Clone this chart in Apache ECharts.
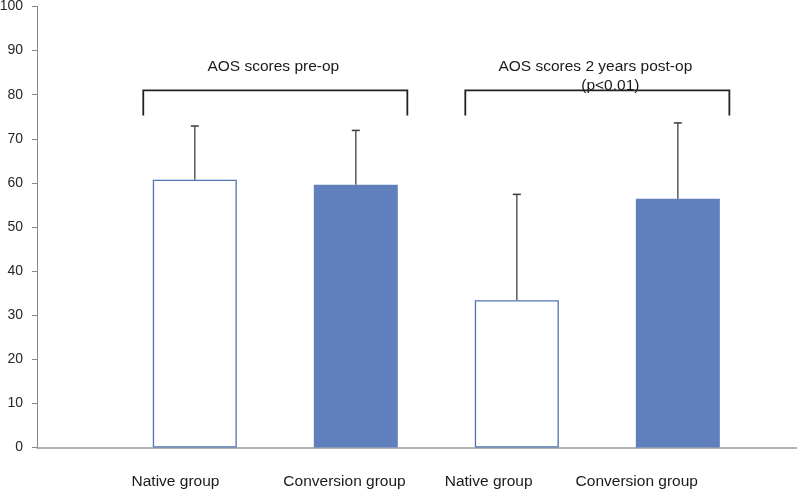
<!DOCTYPE html>
<html><head><meta charset="utf-8">
<script src="https://cdn.jsdelivr.net/npm/echarts@6/dist/echarts.min.js"></script>
<style>html,body{margin:0;padding:0;background:#fff}#c{width:797px;height:489px}</style>
</head><body><div id="c"></div>
<script>
// ---- data ----
const categories = ['Native group', 'Conversion group', 'Native group', 'Conversion group'];
const barPositions = [1, 2, 3, 4];
const meanScores = [60.7, 59.6, 33.4, 56.4];
const sdScores = [12.2, 12.3, 24.0, 17.2];
const groupFilled = [false, true, false, true];
const bracketTitles = [['AOS scores pre-op'], ['AOS scores 2 years post-op', '(p<0.01)']];
const bracketBars = [[0, 1], [2, 3]];
const yTickLabels = [0, 10, 20, 30, 40, 50, 60, 70, 80, 90, 100];

// ---- layout/style (not data) ----
const labelShift = [-0.12, -0.07, -0.175, -0.255];
const bracketPad = 0.32;
const bracketTop = 81, bracketBottom = 75.3;
const FONT = '"Liberation Sans", Arial, sans-serif';
const BLUE = '#5F80BD';

const labelX = barPositions.map((p, i) => +(p + labelShift[i]).toFixed(4));

const chart = echarts.init(document.getElementById('c'), null, {renderer: 'canvas'});
chart.setOption({
  animation: false,
  backgroundColor: '#fff',
  grid: {left: 37, right: 0, top: 6.5, bottom: 41.5, containLabel: false, outerBoundsMode: 'none'},
  xAxis: {
    type: 'value', min: 0.02, max: 4.74,
    splitLine: {show: false},
    axisLine: {show: true, lineStyle: {color: '#9a9a9a', width: 1.5}},
    axisTick: {show: false},
    axisLabel: {
      show: true, customValues: labelX, margin: 26,
      fontFamily: FONT, fontSize: 15.5, color: '#1a1a1a',
      formatter: function (v) {
        for (let i = 0; i < labelX.length; i++) if (Math.abs(labelX[i] - v) < 1e-6) return categories[i];
        return '';
      }
    }
  },
  yAxis: {
    type: 'value', min: yTickLabels[0], max: yTickLabels[yTickLabels.length - 1], interval: 10,
    splitLine: {show: false},
    axisLine: {show: true, lineStyle: {color: '#868686', width: 1}},
    axisTick: {show: true, inside: false, length: 5, lineStyle: {color: '#868686'}},
    axisLabel: {margin: 14, fontFamily: FONT, fontSize: 14, color: '#262626'}
  },
  series: [
    {
      type: 'bar', barWidth: 84, z: 2,
      data: barPositions.map((p, i) => ({
        value: [p, meanScores[i]],
        itemStyle: groupFilled[i]
          ? {color: BLUE, borderColor: BLUE, borderWidth: 0}
          : {color: '#ffffff', borderColor: '#4F74B5', borderWidth: 1.3}
      }))
    },
    {
      type: 'custom', z: 3,
      data: barPositions.map((p, i) => [p, meanScores[i], meanScores[i] + sdScores[i]]),
      renderItem: function (params, api) {
        const a = api.coord([api.value(0), api.value(1)]);
        const b = api.coord([api.value(0), api.value(2)]);
        return {type: 'group', children: [
          {type: 'line', shape: {x1: a[0], y1: a[1], x2: b[0], y2: b[1]}, style: {stroke: '#5a5a5a', lineWidth: 1.5}},
          {type: 'line', shape: {x1: b[0] - 4, y1: b[1], x2: b[0] + 4, y2: b[1]}, style: {stroke: '#3a3a3a', lineWidth: 1.5}}
        ]};
      }
    },
    {
      type: 'custom', z: 4,
      data: bracketBars.map((bb, i) => [barPositions[bb[0]] - bracketPad, barPositions[bb[1]] + bracketPad, bracketTop, bracketBottom, i]),
      renderItem: function (params, api) {
        const x1 = api.value(0), x2 = api.value(1), yt = api.value(2), yb = api.value(3);
        const idx = api.value(4);
        const p1 = api.coord([x1, yb]), p2 = api.coord([x1, yt]), p3 = api.coord([x2, yt]), p4 = api.coord([x2, yb]);
        const midX = (p2[0] + p3[0]) / 2;
        const titles = bracketTitles[idx];
        const children = [
          {type: 'polyline', shape: {points: [p1, p2, p3, p4]}, style: {stroke: '#222222', lineWidth: 1.8, fill: null}}
        ];
        titles.forEach((t, k) => {
          children.push({type: 'text', style: {
            text: t, x: midX + (k === 0 ? -2 : 13), y: p2[1] - 24 + k * 19,
            align: 'center', verticalAlign: 'middle',
            font: '15.5px ' + FONT, fill: '#1a1a1a'
          }});
        });
        return {type: 'group', children: children};
      }
    }
  ]
});
</script>
</body></html>
